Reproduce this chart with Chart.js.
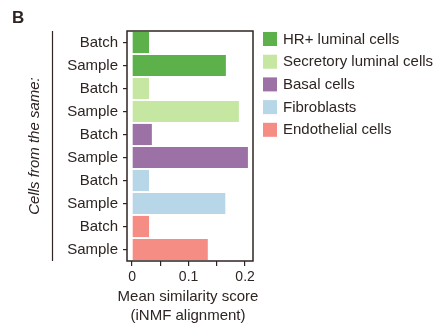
<!DOCTYPE html>
<html>
<head>
    <title>Mean similarity score</title>
    <style>
        html, body { margin: 0; padding: 0; background: #fff; }
        #wrap { width: 436px; height: 328px; position: relative; }
    </style>
</head>
<body>
    <div id="wrap"><canvas id="simChart" width="436" height="328"></canvas></div>

    <script src="https://cdn.jsdelivr.net/npm/chart.js"></script>
    <script type="text/javascript">
        // data
        const cellTypes = ['HR+ luminal cells', 'Secretory luminal cells', 'Basal cells', 'Fibroblasts', 'Endothelial cells'];
        const cellColors = ['#5db14b', '#c5e7a1', '#9c71a5', '#b7d7e8', '#f58d85'];
        const groups = ['Batch', 'Sample'];
        const batchScores = [0.030, 0.030, 0.035, 0.030, 0.030];
        const sampleScores = [0.166, 0.189, 0.205, 0.165, 0.134];
        const xTicks = [0, 0.05, 0.1, 0.15, 0.2];
        const xTickLabels = ['0', '', '0.1', '', '0.2'];
        const xTitle = ['Mean similarity score', '(iNMF alignment)'];

        const ink = '#2e2522';
        const fontFam = '"Liberation Sans", Arial, Helvetica, sans-serif';

        let labels = [], values = [], colors = [];
        cellTypes.forEach((c, i) => {
            labels.push(groups[0], groups[1]);
            values.push(batchScores[i], sampleScores[i]);
            colors.push(cellColors[i], cellColors[i]);
        });

        // panel letter, bracket line, plot frame, x title and the legend
        const extras = {
            id: 'extras',
            afterDraw(chart) {
                const ctx = chart.ctx;
                const a = chart.chartArea;
                ctx.save();
                ctx.strokeStyle = ink;
                ctx.lineWidth = 1.5;
                ctx.strokeRect(a.left, a.top, a.right - a.left, a.bottom - a.top);

                ctx.lineWidth = 1.2;
                ctx.beginPath();
                ctx.moveTo(52.5, a.top);
                ctx.lineTo(52.5, a.bottom);
                ctx.stroke();

                ctx.fillStyle = ink;
                ctx.font = 'bold 17px ' + fontFam;
                ctx.textBaseline = 'alphabetic';
                ctx.fillText('B', 12, 23);

                // x axis title, wider than the plot so drawn here
                ctx.font = '15px ' + fontFam;
                ctx.textBaseline = 'middle';
                ctx.textAlign = 'center';
                xTitle.forEach((t, i) => ctx.fillText(t, 188, 297 + i * 19));

                ctx.textAlign = 'left';
                cellTypes.forEach((c, i) => {
                    const y = 39 + i * 22.7;
                    ctx.fillStyle = cellColors[i];
                    ctx.fillRect(263, y - 7, 14, 14);
                    ctx.fillStyle = ink;
                    ctx.fillText(c, 283, y + 0.5);
                });
                ctx.restore();
            }
        };

        const ctx = document.getElementById('simChart');
        window.simChart = new Chart(ctx, {
            type: 'bar',
            data: {
                labels: labels,
                datasets: [{
                    data: values,
                    backgroundColor: colors,
                    borderWidth: 0,
                    barPercentage: 0.92,
                    categoryPercentage: 1
                }]
            },
            options: {
                indexAxis: 'y',
                responsive: false,
                animation: false,
                layout: { padding: { top: 31, right: 183, left: 0, bottom: 0 } },
                plugins: { legend: { display: false }, tooltip: { enabled: false } },
                scales: {
                    x: {
                        min: -0.009,
                        max: 0.214,
                        afterBuildTicks: s => { s.ticks = xTicks.map(v => ({ value: v })); },
                        afterFit: s => { s.height = 67; },
                        grid: { drawOnChartArea: false, drawTicks: true, tickLength: 5, color: ink, lineWidth: 1.2 },
                        border: { display: false },
                        ticks: {
                            color: ink,
                            font: { family: fontFam, size: 14 },
                            padding: 3,
                            maxRotation: 0,
                            autoSkip: false,
                            callback: (v, i) => xTickLabels[i]
                        }
                    },
                    y: {
                        afterFit: s => { s.width = 127; },
                        grid: { offset: false, drawOnChartArea: false, drawTicks: true, tickLength: 4, color: ink, lineWidth: 1.2 },
                        border: { display: false },
                        ticks: {
                            color: ink,
                            font: { family: fontFam, size: 15 },
                            padding: 5,
                            autoSkip: false
                        },
                        title: {
                            display: true,
                            text: 'Cells from the same:',
                            color: ink,
                            font: { family: fontFam, size: 15, style: 'italic', lineHeight: 1.27 },
                            padding: { top: 25.5, bottom: 0 }
                        }
                    }
                }
            },
            plugins: [extras]
        });
    </script>
</body>
</html>
